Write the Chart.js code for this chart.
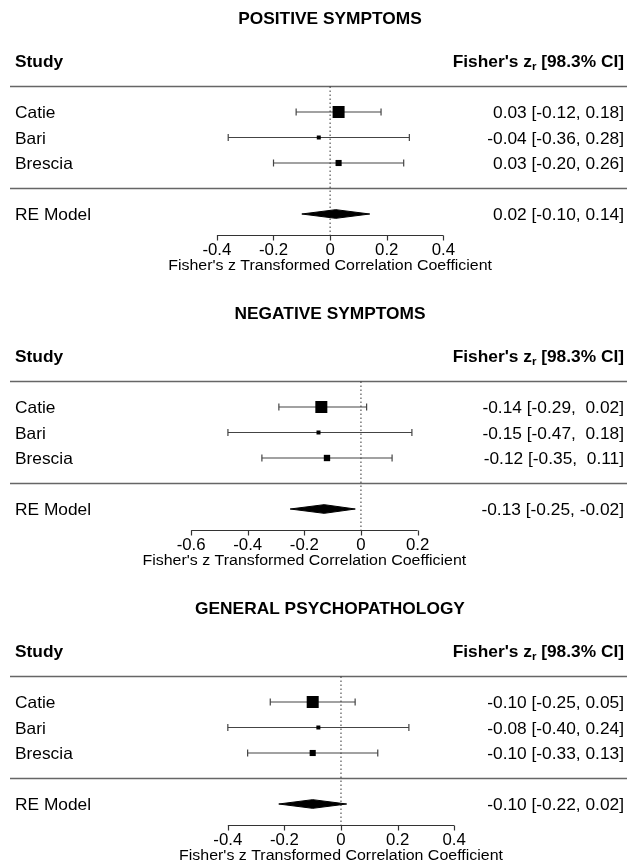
<!DOCTYPE html>
<html>
<head>
<meta charset="utf-8">
<script src="https://cdn.jsdelivr.net/npm/chart.js@4.4.1/dist/chart.umd.min.js"></script>
<style>
  html, body { margin: 0; padding: 0; background: #fff; overflow: hidden; }
  canvas { display: block; }
</style>
</head>
<body>
<canvas id="panel0" width="627" height="295"></canvas>
<canvas id="panel1" width="627" height="295"></canvas>
<canvas id="panel2" width="627" height="295"></canvas>
<script>
// Data
const studies = ['Catie', 'Bari', 'Brescia'];

const posTitle = 'POSITIVE SYMPTOMS';
const posEst = [0.03, -0.04, 0.03];
const posLo = [-0.12, -0.36, -0.20];
const posHi = [0.18, 0.28, 0.26];
const posModel = [0.02, -0.10, 0.14];
const posTicks = [-0.4, -0.2, 0, 0.2, 0.4];

const negTitle = 'NEGATIVE SYMPTOMS';
const negEst = [-0.14, -0.15, -0.12];
const negLo = [-0.29, -0.47, -0.35];
const negHi = [0.02, 0.18, 0.11];
const negModel = [-0.13, -0.25, -0.02];
const negTicks = [-0.6, -0.4, -0.2, 0, 0.2];

const genTitle = 'GENERAL PSYCHOPATHOLOGY';
const genEst = [-0.10, -0.08, -0.10];
const genLo = [-0.25, -0.40, -0.33];
const genHi = [0.05, 0.24, 0.13];
const genModel = [-0.10, -0.22, 0.02];
const genTicks = [-0.4, -0.2, 0, 0.2, 0.4];

// Layout settings
const FONT = '"Liberation Sans", Arial, sans-serif';
const STRETCH = 1.05;       // text in the source is a bit wider than tall
const TEXT_DY = 1.5;
const ROW_PX = 25.5;
const TOP_ROW = 1 + 163 / ROW_PX;
const AXIS_ROW = -1.82;
const INK = '#000';
const RULE = '#666';

function fmt(v) { return v.toFixed(2); }

function padCol(vals) {
    const strs = vals.map(fmt);
    const w = Math.max(...strs.map(s => s.length));
    return strs.map(s => ' '.repeat(w - s.length) + s);
}

// square sides from inverse-variance weights, scaled like metafor (0.5 .. 1.5)
function squareSides(lo, hi) {
    const w = lo.map((l, i) => 1 / Math.pow(hi[i] - l, 2));
    const mn = Math.min(...w), mx = Math.max(...w);
    return w.map(v => 8 * (0.5 + (v - mn) / (mx - mn)));
}

function drawText(ctx, str, x, y, align, font) {
    ctx.save();
    ctx.font = font;
    ctx.fillStyle = INK;
    ctx.textBaseline = 'middle';
    ctx.textAlign = align;
    ctx.translate(x, y + TEXT_DY);
    ctx.scale(STRETCH, 1);
    ctx.fillText(str, 0, 0);
    ctx.restore();
}

function drawHeaderRight(ctx, xRight, y) {
    const big = 'bold 16.5px ' + FONT;
    const small = 'bold 11px ' + FONT;
    const a = "Fisher's z", b = 'r', c = ' [98.3% CI]';
    ctx.save();
    ctx.font = big;
    const wa = ctx.measureText(a).width, wc = ctx.measureText(c).width;
    ctx.font = small;
    const wb = ctx.measureText(b).width;
    ctx.restore();
    const total = (wa + wb + wc) * STRETCH;
    let x = xRight - total;
    drawText(ctx, a, x, y, 'left', big);
    x += wa * STRETCH;
    drawText(ctx, b, x, y + 4, 'left', small);
    x += wb * STRETCH;
    drawText(ctx, c, x, y, 'left', big);
}

function buildPanel(id, title, est, lo, hi, model, ticks, xlim) {
    const k = studies.length;
    const rows = studies.map((s, i) => k - i);
    const sides = squareSides(lo, hi);
    const canvas = document.getElementById(id);
    const yMin = TOP_ROW - canvas.height / ROW_PX;

    const estCol = padCol(est.concat([model[0]]));
    const loCol = padCol(lo.concat([model[1]]));
    const hiCol = padCol(hi.concat([model[2]]));
    const annot = estCol.map((e, i) => e + ' [' + loCol[i] + ', ' + hiCol[i] + ']');

    const datasets = [];
    // horizontal rules above and below the studies
    [k + 1, 0].forEach(r => datasets.push({
        type: 'line',
        data: [{ x: xlim[0], y: r }, { x: xlim[1], y: r }],
        borderColor: RULE, borderWidth: 1.5, pointRadius: 0, order: 6
    }));
    // reference line at zero
    datasets.push({
        type: 'line',
        data: [{ x: 0, y: k + 1 }, { x: 0, y: AXIS_ROW }],
        borderColor: '#333', borderWidth: 1, borderDash: [1.5, 2.5],
        pointRadius: 0, order: 5
    });
    // confidence intervals
    studies.forEach((s, i) => datasets.push({
        type: 'line',
        data: [{ x: lo[i], y: rows[i] }, { x: hi[i], y: rows[i] }],
        borderColor: '#444', borderWidth: 1.2,
        pointStyle: 'line', rotation: 90, pointRadius: 3.5,
        pointBorderColor: '#444', pointBorderWidth: 1.2, order: 3
    }));
    // study estimates
    datasets.push({
        type: 'scatter',
        data: est.map((v, i) => ({ x: v, y: rows[i] })),
        pointStyle: 'rect',
        pointRadius: sides.map(s => s / Math.SQRT2),
        backgroundColor: INK, borderColor: INK, borderWidth: 0, order: 0
    });
    // summary diamond
    const dh = 0.17;
    datasets.push({
        type: 'line',
        data: [
            { x: model[1], y: -1 }, { x: model[0], y: -1 + dh },
            { x: model[2], y: -1 }, { x: model[0], y: -1 - dh },
            { x: model[1], y: -1 }
        ],
        fill: 'shape', backgroundColor: INK, borderColor: INK,
        borderWidth: 1, pointRadius: 0, tension: 0, order: 1
    });

    const textPlugin = {
        id: 'forestText',
        afterDraw(chart) {
            const ctx = chart.ctx;
            const xs = chart.scales.x, ys = chart.scales.y;
            const left = xs.left + 5, right = xs.right - 3;
            const regular = '16.5px ' + FONT;
            const bold = 'bold 16.5px ' + FONT;

            drawText(ctx, title, xs.left + 320, ys.getPixelForValue(6.7), 'center', bold);
            drawText(ctx, 'Study', left, ys.getPixelForValue(k + 2), 'left', bold);
            drawHeaderRight(ctx, right, ys.getPixelForValue(k + 2));

            studies.forEach((s, i) => {
                const y = ys.getPixelForValue(rows[i]);
                drawText(ctx, s, left, y, 'left', regular);
                drawText(ctx, annot[i], right, y, 'right', regular);
            });
            drawText(ctx, 'RE Model', left, ys.getPixelForValue(-1), 'left', regular);
            drawText(ctx, annot[k], right, ys.getPixelForValue(-1), 'right', regular);

            // x axis, only over the tick range
            const ay = Math.round(ys.getPixelForValue(AXIS_ROW)) + 0.5;
            const x0 = xs.getPixelForValue(ticks[0]);
            const x1 = xs.getPixelForValue(ticks[ticks.length - 1]);
            ctx.save();
            ctx.strokeStyle = '#333';
            ctx.lineWidth = 1.2;
            ctx.beginPath();
            ctx.moveTo(x0, ay);
            ctx.lineTo(x1, ay);
            ticks.forEach(t => {
                const tx = Math.round(xs.getPixelForValue(t)) + 0.5;
                ctx.moveTo(tx, ay);
                ctx.lineTo(tx, ay + 5);
            });
            ctx.stroke();
            ctx.restore();
            ticks.forEach(t => {
                drawText(ctx, String(t), xs.getPixelForValue(t), ys.getPixelForValue(-2.36), 'center', '16px ' + FONT);
            });
            drawText(ctx, "Fisher's z Transformed Correlation Coefficient",
                (x0 + x1) / 2, ys.getPixelForValue(-2.98), 'center', '15.2px ' + FONT);
        }
    };

    return new Chart(canvas, {
        type: 'scatter',
        data: { datasets },
        options: {
            responsive: false,
            animation: false,
            layout: { autoPadding: false, padding: { left: 10, right: 0, top: 0, bottom: 0 } },
            plugins: { legend: { display: false }, tooltip: { enabled: false } },
            scales: {
                x: { type: 'linear', min: xlim[0], max: xlim[1], display: false },
                y: { type: 'linear', min: yMin, max: TOP_ROW, display: false }
            }
        },
        plugins: [textPlugin]
    });
}

buildPanel('panel0', posTitle, posEst, posLo, posHi, posModel, posTicks, [-1.131, 1.049]);
buildPanel('panel1', negTitle, negEst, negLo, negHi, negModel, negTicks, [-1.240, 0.940]);
buildPanel('panel2', genTitle, genEst, genLo, genHi, genModel, genTicks, [-1.170, 1.011]);
</script>
</body>
</html>
